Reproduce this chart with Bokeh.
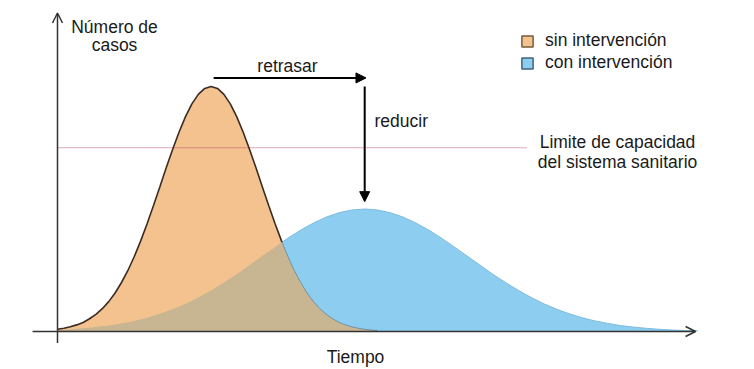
import numpy as np
from bokeh.plotting import figure
from bokeh.models import Range1d, Arrow, NormalHead, OpenHead, Label, Legend, LegendItem
from bokeh.embed import file_html
from bokeh.resources import INLINE

# ---------------- data ----------------
orange_label = "sin intervención"
blue_label = "con intervención"

orange_t = list(range(0, 51))
orange_cases = [0.9, 1.3, 1.9, 2.7, 3.7, 5.2, 7.0, 9.3, 12.2, 15.7, 20.0, 24.9, 30.6,
                37.0, 44.0, 51.4, 59.1, 66.9, 74.4, 81.4, 87.7, 92.9, 96.8, 99.2, 100.0,
                99.2, 96.8, 92.9, 87.7, 81.4, 74.4, 66.9, 59.1, 51.4, 44.0, 37.0, 30.6,
                24.9, 20.0, 15.7, 12.2, 9.3, 7.0, 5.2, 3.7, 2.7, 1.9, 1.3, 0.9, 0.6, 0.4]

blue_t = list(range(0, 101, 2))
blue_cases = [0.6, 0.9, 1.3, 1.8, 2.4, 3.3, 4.3, 5.6, 7.2, 9.1, 11.3, 13.9, 16.8, 20.0,
              23.4, 27.1, 30.8, 34.5, 38.1, 41.4, 44.3, 46.7, 48.5, 49.6, 50.0, 49.6,
              48.5, 46.7, 44.3, 41.4, 38.1, 34.5, 30.8, 27.1, 23.4, 20.0, 16.8, 13.9,
              11.3, 9.1, 7.2, 5.6, 4.3, 3.3, 2.4, 1.8, 1.3, 0.9, 0.6, 0.4, 0.3]

capacity = 75.0
capacity_end_t = 73.4
x_axis_span = [-3.9, 99.7]
y_axis_span = [-4.7, 130.0]

# ---------------- styles ----------------
ORANGE = "#F3C28F"
BLUE = "#8DCDF0"
TAN = "#C8B592"
DARK = "#3A2C24"
FONT = "Liberation Sans"
FS = "17.5px"
TXT = "#1a1a1a"

t_o = np.array(orange_t, float)
c_o = np.array(orange_cases, float)
t_b = np.array(blue_t, float)
c_b = np.array(blue_cases, float)
c_b_on_o = np.interp(t_o, t_b, c_b)
overlap = np.minimum(c_o, c_b_on_o)

peak_o_t = t_o[c_o.argmax()]
peak_o_c = c_o.max()
peak_b_t = t_b[c_b.argmax()]
peak_b_c = c_b.max()

# crossing point of the orange descent with the blue curve
i = int(np.where((c_o < c_b_on_o) & (t_o > peak_o_t))[0][0])
d0 = c_o[i - 1] - c_b_on_o[i - 1]
d1 = c_o[i] - c_b_on_o[i]
f = d0 / (d0 - d1)
tx = t_o[i - 1] + f * (t_o[i] - t_o[i - 1])
cx = c_o[i - 1] + f * (c_o[i] - c_o[i - 1])

W, H = 754, 369
p = figure(width=W, height=H, x_range=Range1d(-8.906, 108.906), y_range=Range1d(-15.51, 135.10),
           output_backend="svg", toolbar_location=None, min_border=0,
           x_axis_location=None, y_axis_location=None)
p.grid.visible = False
p.outline_line_color = None
p.background_fill_color = "white"

p.varea(x=t_b, y1=0, y2=c_b, fill_color=BLUE)
p.line(x=t_b, y=c_b, line_color="#7DBCE0", line_width=1)
p.varea(x=t_o, y1=0, y2=c_o, fill_color=ORANGE)
p.varea(x=t_o, y1=0, y2=overlap, fill_color=TAN)

# capacity line
p.line(x=[0, capacity_end_t], y=[capacity, capacity], line_color="#C0506E", line_dash="1 1", line_width=1)

# orange outline
p.line(x=list(t_o[:i]) + [tx], y=list(c_o[:i]) + [cx], line_color=DARK, line_width=1.6)
p.line(x=[tx] + list(t_o[i:]), y=[cx] + list(c_o[i:]), line_color="#6F92A8", line_width=1)

# axes
p.add_layout(Arrow(end=OpenHead(size=10, line_color="#333333", line_width=1.5),
                   x_start=x_axis_span[0], y_start=0, x_end=x_axis_span[1], y_end=0,
                   line_color="#333333", line_width=1.5))
p.add_layout(Arrow(end=OpenHead(size=10, line_color="#333333", line_width=1.5),
                   x_start=0, y_start=y_axis_span[0], x_end=0, y_end=y_axis_span[1],
                   line_color="#333333", line_width=1.5))

# retrasar / reducir arrows
p.add_layout(Arrow(end=NormalHead(size=10, fill_color="black", line_color="black"),
                   x_start=peak_o_t + 0.4, y_start=peak_o_c + 3.5, x_end=peak_b_t + 0.2, y_end=peak_o_c + 3.5,
                   line_color="black", line_width=2))
p.add_layout(Arrow(end=NormalHead(size=10, fill_color="black", line_color="black"),
                   x_start=peak_b_t, y_start=peak_o_c, x_end=peak_b_t, y_end=peak_b_c + 3,
                   line_color="black", line_width=2))


def label(text, px, py, align="left"):
    p.add_layout(Label(x=px, y=H - py, x_units="screen", y_units="screen", text=text,
                       text_font=FONT, text_font_size=FS, text_color=TXT,
                       text_align=align, text_baseline="alphabetic"))


label("Número de", 114, 26, "center")
label("casos", 114, 44, "center")
label("retrasar", 287, 65, "center")
label("reducir", 374, 120)
label("Limite de capacidad", 617, 141, "center")
label("del sistema sanitario", 617, 161, "center")
label("Tiempo", 355, 356, "center")

# legend swatches (not drawn on the plot itself)
r_lo = p.quad(left=[np.nan], right=[np.nan], top=[np.nan], bottom=[np.nan],
              fill_color=ORANGE, line_color="#7A5A3C", line_width=1.5)
r_lb = p.quad(left=[np.nan], right=[np.nan], top=[np.nan], bottom=[np.nan],
              fill_color=BLUE, line_color="#3F6480", line_width=1.5)
legend = Legend(items=[LegendItem(label=orange_label, renderers=[r_lo]),
                       LegendItem(label=blue_label, renderers=[r_lb])],
                location=(520, 296), glyph_width=14, glyph_height=14,
                label_text_font=FONT, label_text_font_size=FS, label_text_color=TXT,
                label_standoff=11, spacing=1, padding=0, margin=0, label_height=20,
                border_line_color=None, background_fill_alpha=0)
p.add_layout(legend)

open("out.html", "w").write(file_html(p, INLINE))
